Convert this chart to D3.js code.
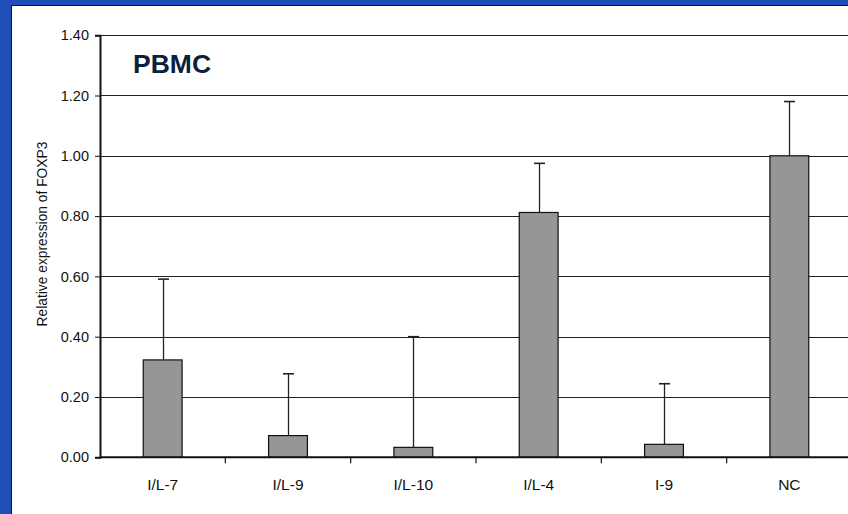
<!DOCTYPE html>
<html>
<head>
<meta charset="utf-8">
<script src="https://cdn.jsdelivr.net/npm/d3@7"></script>
<style>
  html, body { margin: 0; padding: 0; background: #1f4fb6; }
  svg { display: block; }
</style>
</head>
<body>
<svg id="chart" width="848" height="514"></svg>
<script>
// FOXP3 relative expression in PBMC, mean with upper error (SD)
const categories = ["I/L-7", "I/L-9", "I/L-10", "I/L-4", "I-9", "NC"];
const means = [0.323, 0.072, 0.033, 0.812, 0.043, 1.00];
const errorTops = [0.591, 0.277, 0.400, 0.975, 0.244, 1.180];
const yTicks = [0, 0.2, 0.4, 0.6, 0.8, 1.0, 1.2, 1.4];

const svg = d3.select("#chart");
const W = 848, H = 514;

// blue frame with a dark inner edge and white panel
svg.append("rect").attr("x", 0).attr("y", 0).attr("width", W).attr("height", H).attr("fill", "#1f4fb6");
svg.append("rect").attr("x", 11).attr("y", 5).attr("width", W - 11).attr("height", H - 5).attr("fill", "#111");
svg.append("rect").attr("x", 12).attr("y", 6).attr("width", W - 12).attr("height", H - 6).attr("fill", "#fff");

const plotLeft = 100, plotRight = 852, plotTop = 35.2, plotBottom = 457.3;

const y = d3.scaleLinear().domain([0, 1.4]).range([plotBottom, plotTop]);
const x = d3.scaleBand().domain(categories).range([plotLeft, plotRight]).padding(0);
const barW = x.bandwidth() * 0.31;

const font = "'Liberation Sans', Arial, sans-serif";

// horizontal gridlines
svg.append("g").selectAll("line").data(yTicks.slice(1)).join("line")
  .attr("x1", plotLeft).attr("x2", plotRight)
  .attr("y1", d => Math.round(y(d)) + 0.5).attr("y2", d => Math.round(y(d)) + 0.5)
  .attr("stroke", "#222").attr("stroke-width", 1);

// y axis
const yAxis = svg.append("g").attr("transform", `translate(${plotLeft},0)`)
  .call(d3.axisLeft(y).tickValues(yTicks).tickFormat(d3.format(".2f")).tickSize(5).tickPadding(6));
yAxis.select(".domain").attr("stroke", "#111").attr("stroke-width", 2);
yAxis.selectAll(".tick line").attr("stroke", "#111");
yAxis.selectAll("text").attr("font-family", font).attr("font-size", 14.5).attr("fill", "#111");

// error bars (upper only)
const eb = svg.append("g");
categories.forEach((c, i) => {
  const cx = Math.round(x(c) + x.bandwidth() / 2) + 0.5;
  eb.append("line").attr("x1", cx).attr("x2", cx)
    .attr("y1", y(means[i])).attr("y2", y(errorTops[i]))
    .attr("stroke", "#222").attr("stroke-width", 1.3);
  eb.append("line").attr("x1", cx - 5.5).attr("x2", cx + 5.5)
    .attr("y1", y(errorTops[i])).attr("y2", y(errorTops[i]))
    .attr("stroke", "#222").attr("stroke-width", 1.6);
});

// bars
svg.append("g").selectAll("rect").data(categories).join("rect")
  .attr("x", d => x(d) + x.bandwidth() / 2 - barW / 2)
  .attr("width", barW)
  .attr("y", (d, i) => y(means[i]))
  .attr("height", (d, i) => plotBottom - y(means[i]))
  .attr("fill", "#969696")
  .attr("stroke", "#111")
  .attr("stroke-width", 1.2);

// x axis with ticks at category boundaries
const xg = svg.append("g").attr("transform", `translate(0,${plotBottom})`);
xg.append("line").attr("x1", plotLeft).attr("x2", plotRight).attr("y1", 0).attr("y2", 0)
  .attr("stroke", "#111").attr("stroke-width", 2);
xg.selectAll("line.tk").data(categories.slice(1)).join("line").attr("class", "tk")
  .attr("x1", d => x(d)).attr("x2", d => x(d)).attr("y1", 0).attr("y2", 6)
  .attr("stroke", "#111").attr("stroke-width", 1.2);
xg.selectAll("text").data(categories).join("text")
  .attr("x", d => x(d) + x.bandwidth() / 2)
  .attr("y", 32.7)
  .attr("text-anchor", "middle")
  .attr("font-family", font).attr("font-size", 15.5).attr("fill", "#111")
  .text(d => d);

// y axis title
svg.append("text")
  .attr("transform", `translate(47,234) rotate(-90)`)
  .attr("text-anchor", "middle")
  .attr("font-family", font).attr("font-size", 13.8).attr("fill", "#111")
  .text("Relative expression of FOXP3");

// panel title
svg.append("text")
  .attr("x", 133).attr("y", 72.5)
  .attr("font-family", font).attr("font-size", 26.5).attr("font-weight", "bold")
  .attr("fill", "#0c1f3e")
  .text("PBMC");
</script>
</body>
</html>
